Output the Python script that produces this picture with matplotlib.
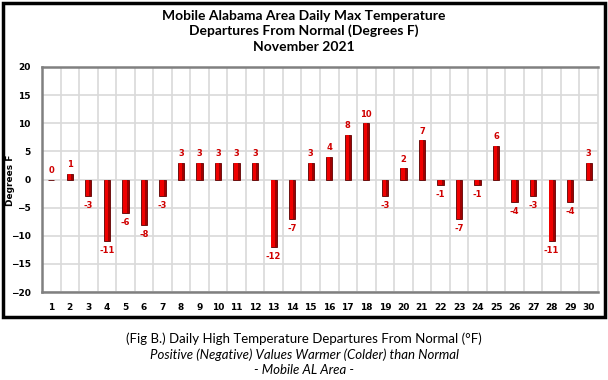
import matplotlib
matplotlib.use('Agg')  # Headless mode
import matplotlib.pyplot as plt
from matplotlib.patches import Rectangle

days = list(range(1, 31))
departures = [0, 1, -3, -11, -6, -8, -3, 3, 3, 3, 3, 3, -12, -7, 3, 4, 8, 10,
              -3, 2, 7, -1, -7, -1, 6, -4, -3, -11, -4, 3]
y_ticks = [-20, -15, -10, -5, 0, 5, 10, 15, 20]

plt.rcParams['font.family'] = ['Lato', 'DejaVu Sans']

fig = plt.figure(figsize=(6.08, 3.8), dpi=100)
ax = fig.add_axes([42 / 608, 1 - 292 / 380, (598 - 42) / 608, (292 - 67) / 380])

# bars: dark outer bar plus bright inner strip for a shaded look
ax.bar(days, departures, width=0.34, color='#a00000', edgecolor='#600000',
       linewidth=0.6, zorder=3)
ax.bar([d - 0.03 for d in days], departures, width=0.18, color='#f00000',
       linewidth=0, zorder=4)

for d, v in zip(days, departures):
    if v >= 0:
        ax.text(d, v + 0.8, str(v), ha='center', va='bottom', color='#d00000',
                fontsize=6, fontweight='bold', family='DejaVu Sans')
    else:
        ax.text(d, v - 0.9, str(v), ha='center', va='top', color='#d00000',
                fontsize=6, fontweight='bold', family='DejaVu Sans')

ax.set_xlim(0.5, 30.5)
ax.set_ylim(-20, 20)
ax.set_yticks(y_ticks)
ax.set_xticks(days)
ax.set_xticks([d + 0.5 for d in range(0, 30)], minor=True)
ax.tick_params(axis='both', which='both', length=0, labelsize=6.5, pad=8)
for lbl in ax.get_xticklabels() + ax.get_yticklabels():
    lbl.set_fontweight('bold')
    lbl.set_family('DejaVu Sans')
ax.grid(axis='y', which='major', color='#d9d9d9', linewidth=1.2, zorder=0)
ax.grid(axis='x', which='minor', color='#d9d9d9', linewidth=1.2, zorder=0)
for side in ['top', 'left', 'bottom', 'right']:
    ax.spines[side].set_color('#808080')
    ax.spines[side].set_linewidth(1.8)
ax.spines['right'].set_color('#d9d9d9')
ax.spines['right'].set_linewidth(1.2)

fig.text(11 / 608, 1 - 180 / 380, 'Degrees F', rotation=90, ha='center',
         va='center', fontsize=6.5, fontweight='bold', family='DejaVu Sans')

fig.text(0.5, 1 - 16 / 380, 'Mobile Alabama Area Daily Max Temperature',
         ha='center', va='center', fontsize=10, fontweight='bold')
fig.text(0.5, 1 - 31 / 380, 'Departures From Normal (Degrees F)',
         ha='center', va='center', fontsize=10, fontweight='bold')
fig.text(0.5, 1 - 47 / 380, 'November 2021',
         ha='center', va='center', fontsize=10, fontweight='bold')

# outer chart border
fig.patches.append(Rectangle((3 / 608, 1 - 317 / 380), 602 / 608, 314 / 380,
                             transform=fig.transFigure, fill=False,
                             edgecolor='black', linewidth=2.5))

fig.text(0.5, 1 - 339 / 380, '(Fig B.) Daily High Temperature Departures From Normal (°F)',
         ha='center', va='center', fontsize=9.5)
fig.text(0.5, 1 - 355 / 380, 'Positive (Negative) Values Warmer (Colder) than Normal',
         ha='center', va='center', fontsize=9.5, style='italic')
fig.text(0.5, 1 - 370 / 380, '- Mobile AL Area -',
         ha='center', va='center', fontsize=9.5, style='italic')

plt.savefig('out.png', dpi=100, facecolor='white')
plt.close()
